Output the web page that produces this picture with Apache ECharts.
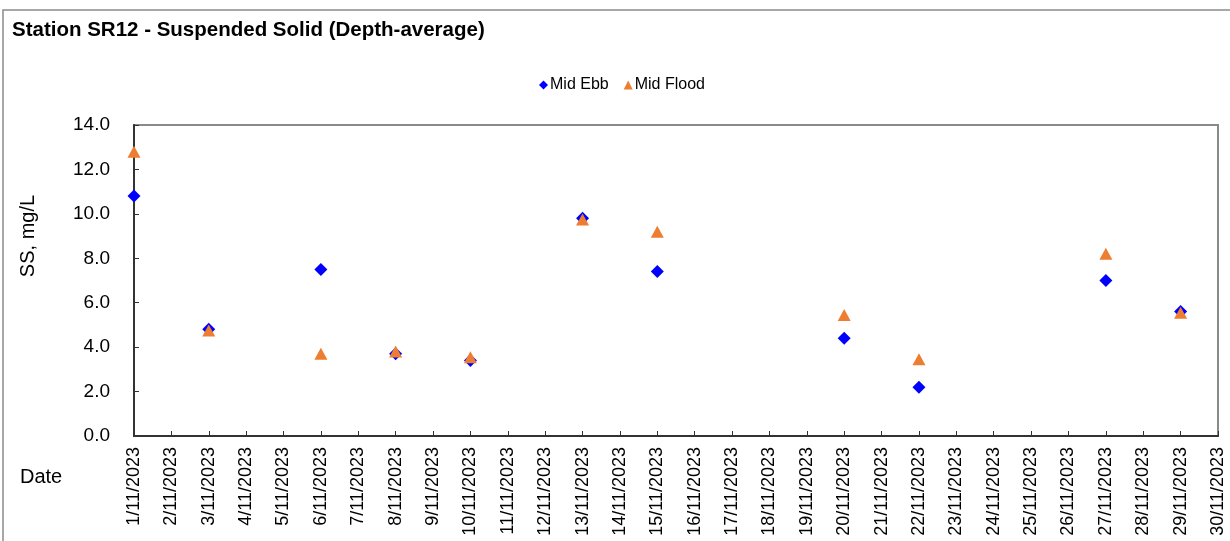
<!DOCTYPE html>
<html>
<head>
<meta charset="utf-8">
<script src="https://cdn.jsdelivr.net/npm/echarts@6/dist/echarts.min.js"></script>
<style>
html,body{margin:0;padding:0;background:#fff;}
#chart{width:1230px;height:541px;}
</style>
</head>
<body>
<div id="chart"></div>
<script>
const dates = ['1/11/2023','2/11/2023','3/11/2023','4/11/2023','5/11/2023','6/11/2023','7/11/2023','8/11/2023','9/11/2023','10/11/2023','11/11/2023','12/11/2023','13/11/2023','14/11/2023','15/11/2023','16/11/2023','17/11/2023','18/11/2023','19/11/2023','20/11/2023','21/11/2023','22/11/2023','23/11/2023','24/11/2023','25/11/2023','26/11/2023','27/11/2023','28/11/2023','29/11/2023','30/11/2023'];
const sampleDates = ['1/11/2023','3/11/2023','6/11/2023','8/11/2023','10/11/2023','13/11/2023','15/11/2023','20/11/2023','22/11/2023','27/11/2023','29/11/2023'];
const midEbb = [10.8, 4.8, 7.5, 3.7, 3.4, 9.8, 7.4, 4.4, 2.2, 7.0, 5.6];
const midFlood = [12.8, 4.75, 3.7, 3.8, 3.55, 9.75, 9.2, 5.45, 3.45, 8.2, 5.55];
const titleText = 'Station SR12 - Suspended Solid (Depth-average)';
const yName = 'SS, mg/L';
const xName = 'Date';

const FONT = '"Liberation Sans", Arial, sans-serif';
const chart = echarts.init(document.getElementById('chart'), null, {renderer: 'canvas'});
chart.setOption({
  animation: false,
  backgroundColor: '#ffffff',
  textStyle: {fontFamily: FONT},
  title: {
    text: titleText,
    left: 7, top: 15,
    textStyle: {fontFamily: FONT, fontSize: 20.5, fontWeight: 'bold', color: '#000'}
  },
  legend: {
    top: 72, left: 534,
    itemWidth: 9, itemHeight: 9, itemGap: 15,
    textStyle: {fontFamily: FONT, fontSize: 16, color: '#000', padding: [0,0,0,-3]},
    data: [
      {name: 'Mid Ebb', icon: 'diamond', itemStyle: {color: '#0000FF', opacity: 1}},
      {name: 'Mid Flood', icon: 'triangle', itemStyle: {color: '#ED7D31', opacity: 1}}
    ]
  },
  grid: {
    left: 134, top: 125, right: 12, bottom: 105,
    show: true, borderColor: '#8a8a8a', borderWidth: 2, backgroundColor: 'transparent'
  },
  xAxis: {
    type: 'category',
    data: dates,
    boundaryGap: false,
    axisLine: {lineStyle: {color: '#333', width: 2}},
    axisTick: {inside: true, length: 5, lineStyle: {color: '#333', width: 1}},
    axisLabel: {rotate: 90, interval: 0, margin: 11, fontSize: 18, color: '#000', fontFamily: FONT},
    splitLine: {show: false}
  },
  yAxis: {
    type: 'value',
    min: 0, max: 14, interval: 2,
    axisLine: {show: true, lineStyle: {color: '#333', width: 2}},
    axisTick: {show: true, inside: true, length: 5, lineStyle: {color: '#333', width: 1}},
    axisLabel: {margin: 24, fontSize: 19, color: '#000', fontFamily: FONT, formatter: v => v.toFixed(1)},
    splitLine: {show: false}
  },
  graphic: [
    {type: 'rect', shape: {x: 3, y: 10, width: 1240, height: 545}, style: {fill: 'none', stroke: '#8a8a8a', lineWidth: 1.5}, silent: true, z: -1},
    {type: 'text', x: 28, y: 236, rotation: Math.PI/2, style: {text: yName, fontFamily: FONT, fontSize: 20, fill: '#000', align: 'center', verticalAlign: 'middle'}},
    {type: 'text', x: 20, y: 477, style: {text: xName, fontFamily: FONT, fontSize: 20, fill: '#000', align: 'left', verticalAlign: 'middle'}}
  ],
  series: [
    {
      name: 'Mid Ebb', type: 'scatter', symbol: 'diamond', symbolSize: [13, 13],
      itemStyle: {color: '#0000FF', opacity: 1},
      data: sampleDates.map((d, i) => [d, midEbb[i]]), z: 2
    },
    {
      name: 'Mid Flood', type: 'scatter', symbol: 'triangle', symbolSize: [13, 12],
      itemStyle: {color: '#ED7D31', opacity: 1},
      data: sampleDates.map((d, i) => [d, midFlood[i]]), z: 3
    }
  ]
});
</script>
</body>
</html>
